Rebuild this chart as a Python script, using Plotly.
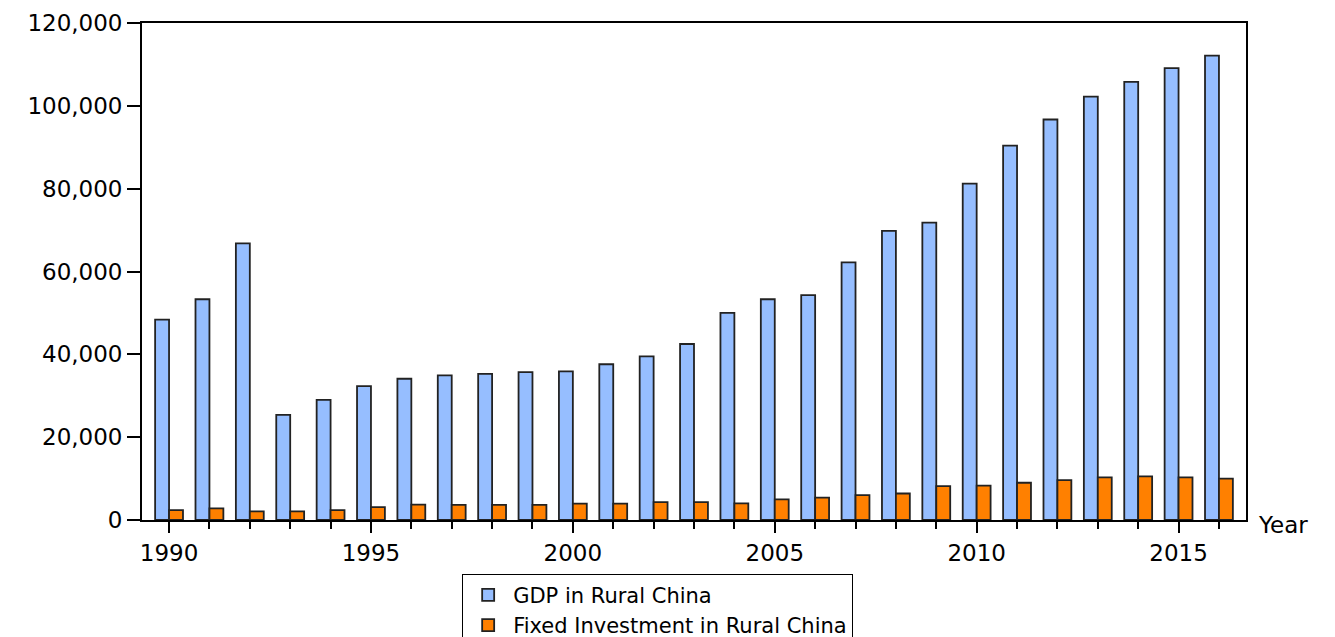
import plotly.graph_objects as go

years = list(range(1990, 2017))
gdp = [48400, 53300, 66800, 25400, 29000, 32300, 34100, 34900, 35300, 35700,
       35900, 37600, 39500, 42500, 50000, 53300, 54300, 62200, 69800, 71800,
       81200, 90400, 96700, 102200, 105800, 109100, 112100]
fixed_inv = [2400, 2800, 2100, 2100, 2400, 3100, 3700, 3650, 3650, 3650,
             3950, 3950, 4300, 4300, 4000, 5000, 5400, 6000, 6400, 8200,
             8300, 9000, 9650, 10300, 10550, 10300, 10000]

FONT = "DejaVu Sans"
FS = 23

fig = go.Figure()
fig.add_trace(go.Bar(x=years, y=gdp, name="GDP in Rural China",
                     marker=dict(color="#96BEFF", line=dict(color="#222222", width=1.8))))
fig.add_trace(go.Bar(x=years, y=fixed_inv, name="Fixed Investment in Rural China",
                     marker=dict(color="#FF8000", line=dict(color="#222222", width=1.8))))

fig.update_layout(
    width=1327, height=629,
    margin=dict(l=134, r=89, t=15, b=117, autoexpand=False),
    paper_bgcolor="white", plot_bgcolor="white",
    barmode="group", bargap=0.31, bargroupgap=0,
    font=dict(family=FONT, size=FS, color="black"),
    showlegend=True,
    legend=dict(x=0.29, xanchor="left", y=-0.108, yanchor="top",
                bordercolor="black", borderwidth=1, bgcolor="white",
                font=dict(family=FONT, size=21, color="black"),
                tracegroupgap=0, itemwidth=40),
    xaxis=dict(range=[1989.33, 2016.67], tickmode="linear", tick0=1990, dtick=5,
               ticks="outside", ticklen=11, tickwidth=1.5, tickcolor="black",
               minor=dict(dtick=1, tick0=1990, ticks="outside", ticklen=7,
                          tickwidth=1.5, tickcolor="black"),
               showline=True, linecolor="black", linewidth=1.8, mirror=True,
               showgrid=False, zeroline=False, automargin=False,
               tickfont=dict(family=FONT, size=FS, color="black")),
    yaxis=dict(range=[0, 120000], tickmode="linear", tick0=0, dtick=20000,
               tickformat=",", ticks="outside", ticklen=13, tickwidth=1.5,
               tickcolor="black", showline=True, linecolor="black", linewidth=1.8,
               mirror=True, showgrid=False, zeroline=False, automargin=False,
               tickfont=dict(family=FONT, size=FS, color="black")),
)

fig.add_annotation(text="Year", xref="paper", yref="paper", x=1.009, y=-0.01,
                   xanchor="left", yanchor="middle", showarrow=False,
                   font=dict(family=FONT, size=FS, color="black"))

fig.write_html("out.html")
